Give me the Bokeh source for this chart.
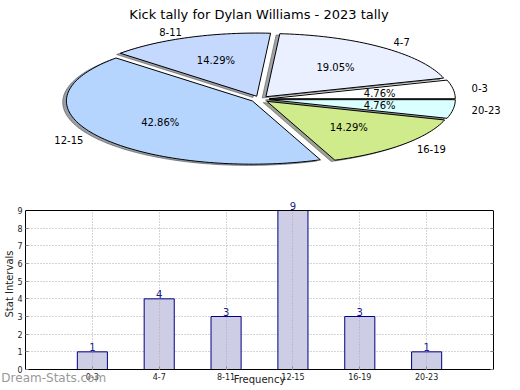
import math
from bokeh.plotting import figure
from bokeh.layouts import column
from bokeh.models import (Range1d, ColumnDataSource, Label, LabelSet, FixedTicker,
                          LinearAxis, Span)
from bokeh.core.properties import value
from bokeh.embed import file_html
from bokeh.resources import INLINE

# ---------------- data ----------------
title_text = "Kick tally for Dylan Williams - 2023 tally"
categories = ["0-3", "4-7", "8-11", "12-15", "16-19", "20-23"]
counts = [1, 4, 3, 9, 3, 1]
slice_colors = ["#ffffff", "#eaf0ff", "#c5d9ff", "#b5d5ff", "#d0eb8c", "#d9ffff"]
y_ticks = [0, 1, 2, 3, 4, 5, 6, 7, 8, 9]
x_axis_title = "Frequency"
y_axis_title = "Stat Intervals"
watermark_text = "Dream-Stats.com"

# ---------------- style / layout ----------------
FONT = "DejaVu Sans"
W = 520
PIE_H = 198
BAR_H = 390 - PIE_H

CX, CY, RX, RY = 259.6, 98.7, 186.0, 63.2   # pie centre / radii (px)
EXPLODE = 0.05
LABEL_DIST = 1.1
PCT_DIST = 0.6
SH_X, SH_Y = -0.02, -0.02

# bar frame (px in page)
F_LEFT, F_RIGHT, F_TOP_AXIS, F_BOTTOM = 25, 493, 210, 369
WM_CENTER = 51.5

# ---------------- pie ----------------
pie = figure(width=W, height=PIE_H,
             x_range=Range1d((0 - CX) / RX, (W - CX) / RX),
             y_range=Range1d((CY - PIE_H) / RY, CY / RY),
             output_backend="svg", toolbar_location=None,
             x_axis_location=None, y_axis_location=None,
             min_border=0, outline_line_color=None)
pie.frame_align = False
pie.grid.visible = False

total = float(sum(counts))
wx, wy, shx, shy, sh_cols = [], [], [], [], []
lab_x, lab_y, lab_al = [], [], []
pct_x, pct_y, pct_t = [], [], []
theta = 0.0
for c, col in zip(counts, slice_colors):
    t1 = theta
    t2 = theta + 360.0 * c / total
    theta = t2
    tm = math.radians((t1 + t2) / 2)
    ox, oy = EXPLODE * math.cos(tm), EXPLODE * math.sin(tm)
    n = max(int((t2 - t1) / 1.5), 4) + 1
    ts = [math.radians(t1 + (t2 - t1) * k / (n - 1)) for k in range(n)]
    xs = [ox] + [ox + math.cos(t) for t in ts]
    ys = [oy] + [oy + math.sin(t) for t in ts]
    wx.append(xs)
    wy.append(ys)
    shx.append([v + SH_X for v in xs])
    shy.append([v + SH_Y for v in ys])
    r, g, b = (int(col[i:i + 2], 16) for i in (1, 3, 5))
    sh_cols.append("#%02x%02x%02x" % (int(0.3 * r), int(0.3 * g), int(0.3 * b)))
    lx = ox + LABEL_DIST * math.cos(tm)
    ly = oy + LABEL_DIST * math.sin(tm)
    lab_x.append(lx)
    lab_y.append(ly)
    lab_al.append("left" if lx > 0 else "right")
    pct_x.append(ox + PCT_DIST * math.cos(tm))
    pct_y.append(oy + PCT_DIST * math.sin(tm))
    pct_t.append("%.2f%%" % (100.0 * c / total))

pie.patches(shx, shy, fill_color=sh_cols, fill_alpha=0.5,
            line_color=sh_cols, line_alpha=0.5, line_width=1)
pie.patches(wx, wy, fill_color=slice_colors, line_color="black", line_width=1)

lab_src = ColumnDataSource(dict(x=lab_x, y=lab_y, t=categories, al=lab_al))
pie.text(x="x", y="y", text="t", text_align="al", text_baseline="middle",
         text_font=value(FONT), text_font_size="10px", text_color="black",
         source=lab_src)
pct_src = ColumnDataSource(dict(x=pct_x, y=pct_y, t=pct_t))
pie.text(x="x", y="y", text="t", text_align="center", text_baseline="middle",
         text_font=value(FONT), text_font_size="10px", text_color="black",
         source=pct_src)

pie.add_layout(Label(x=258.5, y=PIE_H - 13.5, x_units="screen", y_units="screen",
                     text=title_text, text_align="center", text_baseline="alphabetic",
                     text_font=FONT, text_font_size="13px", text_color="black"))

# ---------------- bar chart ----------------
idx = list(range(len(categories)))
ymax = max(counts)
frame_h = F_BOTTOM - PIE_H
px_per_y = (F_BOTTOM - F_TOP_AXIS) / float(ymax)
px_per_x = (F_RIGHT - F_LEFT) / float(len(categories) + 1)
x_lo, x_hi = -1, len(categories)

bar = figure(width=W, height=BAR_H,
             x_range=Range1d(x_lo, x_hi),
             y_range=Range1d(0, frame_h / px_per_y),
             output_backend="svg", toolbar_location=None,
             min_border_left=F_LEFT, min_border_right=W - F_RIGHT,
             min_border_top=0, min_border_bottom=390 - F_BOTTOM,
             outline_line_color=None)
bar.frame_align = False

src = ColumnDataSource(dict(x=idx, top=counts, label=[str(c) for c in counts]))
bar.vbar(x="x", top="top", bottom=0, width=0.45, source=src,
         fill_color="#cdcde6", line_color="#000080", line_width=1)

bar.xaxis.ticker = FixedTicker(ticks=idx)
bar.xaxis.major_label_overrides = {i: c for i, c in zip(idx, categories)}
bar.yaxis.ticker = FixedTicker(ticks=y_ticks)
bar.yaxis.bounds = (0, ymax)
for ax in bar.axis:
    ax.axis_line_color = "black"
    ax.major_tick_in = 3
    ax.major_tick_out = 0
    ax.minor_tick_in = 0
    ax.minor_tick_out = 0
    ax.major_tick_line_color = "#888888"
    ax.minor_tick_line_color = None
    ax.major_label_text_font = FONT
    ax.major_label_text_font_size = "8px"
    ax.major_label_text_color = "#222222"
    ax.axis_label_text_font = FONT
    ax.axis_label_text_font_size = "10px"
    ax.axis_label_text_font_style = "normal"
    ax.axis_label_text_color = "#222222"
bar.xaxis.major_label_standoff = 3
bar.yaxis.major_label_standoff = 3
bar.yaxis.axis_label = y_axis_title
bar.yaxis.axis_label_standoff = -1

# right spine with inner ticks
right_ax = LinearAxis(ticker=FixedTicker(ticks=y_ticks), bounds=(0, ymax),
                      major_tick_in=3, major_tick_out=0, minor_tick_in=0, minor_tick_out=0,
                      major_tick_line_color="#888888", minor_tick_line_color=None,
                      axis_line_color="black",
                      major_label_overrides={t: "" for t in y_ticks},
                      major_label_text_color=None, major_label_standoff=0)
bar.add_layout(right_ax, "right")

# x axis title, centred under the axis (tick-less, line-less axis)
mid_x = (x_lo + x_hi) / 2.0
xt_ax = LinearAxis(ticker=FixedTicker(ticks=[mid_x]),
                   major_label_overrides={mid_x: x_axis_title},
                   axis_line_color=None, major_tick_line_color=None,
                   minor_tick_line_color=None,
                   major_tick_in=0, major_tick_out=0, minor_tick_in=0, minor_tick_out=0,
                   major_label_standoff=-9,
                   major_label_text_font=FONT, major_label_text_font_size="10px",
                   major_label_text_color="#222222")
bar.add_layout(xt_ax, "below")

# watermark as the single tick label of a line-less bottom axis
wm_x = round(x_lo + (WM_CENTER - F_LEFT) / px_per_x, 4)
wm_ax = LinearAxis(ticker=FixedTicker(ticks=[wm_x]),
                   major_label_overrides={wm_x: watermark_text},
                   axis_line_color=None, major_tick_line_color=None,
                   minor_tick_line_color=None,
                   major_tick_in=0, major_tick_out=0, minor_tick_in=0, minor_tick_out=0,
                   major_label_standoff=-17,
                   major_label_text_font=FONT, major_label_text_font_size="12px",
                   major_label_text_color="#999999")
bar.add_layout(wm_ax, "below")

# top spine of the plot box
bar.add_layout(Span(location=ymax, dimension="width", line_color="black", line_width=1))

bar.xgrid.grid_line_color = "#aaaaaa"
bar.xgrid.grid_line_dash = "1 2"
bar.xgrid.level = "guide"
bar.xgrid.cross_bounds = (0, ymax)
bar.ygrid.grid_line_color = "#aaaaaa"
bar.ygrid.grid_line_dash = "1 2"

bar.add_layout(LabelSet(x="x", y="top", text="label", source=src,
                        text_align="center", text_baseline="alphabetic", y_offset=1,
                        text_font=value(FONT), text_font_size=value("10px"),
                        text_color="#1a1a8c"))

layout = column(pie, bar)
open("out.html", "w").write(file_html(layout, INLINE))
